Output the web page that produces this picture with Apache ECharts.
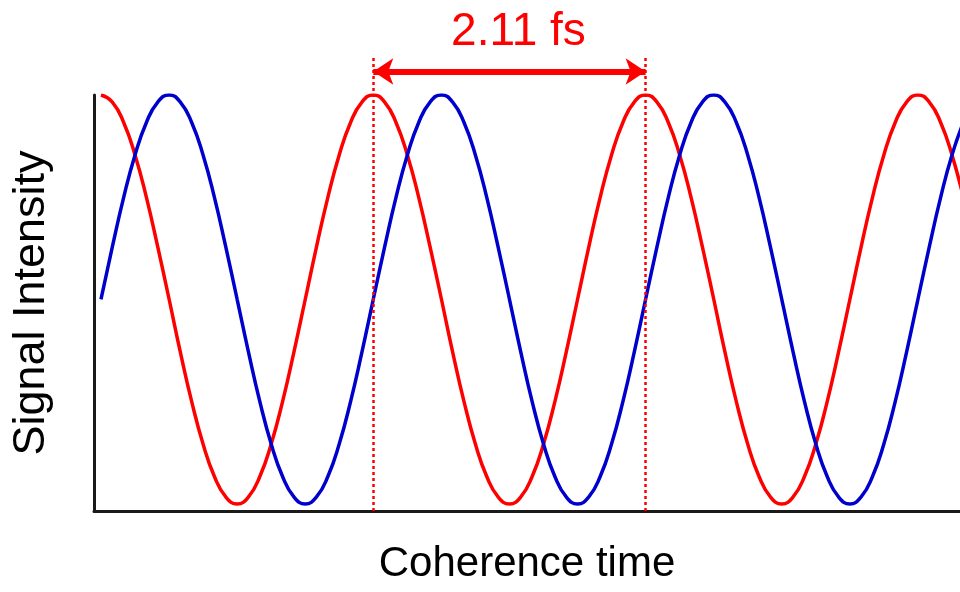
<!DOCTYPE html>
<html>
<head>
<meta charset="utf-8">
<script src="https://cdn.jsdelivr.net/npm/echarts@6/dist/echarts.min.js"></script>
<style>
  html, body { margin: 0; padding: 0; background: #fff; }
  #main { width: 960px; height: 592px; }
</style>
</head>
<body>
<div id="main"></div>
<script>
// coherence time (fs), sampled every 1/24 of the 2.11 fs period
var times = [0, 0.088, 0.176, 0.264, 0.352, 0.440, 0.528, 0.615, 0.703, 0.791, 0.879, 0.967,
  1.055, 1.143, 1.231, 1.319, 1.407, 1.495, 1.583, 1.670, 1.758, 1.846, 1.934, 2.022,
  2.110, 2.198, 2.286, 2.374, 2.462, 2.550, 2.638, 2.725, 2.813, 2.901, 2.989, 3.077,
  3.165, 3.253, 3.341, 3.429, 3.517, 3.605, 3.693, 3.780, 3.868, 3.956, 4.044, 4.132,
  4.220, 4.308, 4.396, 4.484, 4.572, 4.660, 4.748, 4.835, 4.923, 5.011, 5.099, 5.187,
  5.275, 5.363, 5.451, 5.539, 5.627, 5.715, 5.803, 5.890, 5.978, 6.066, 6.154, 6.242,
  6.330, 6.418, 6.506, 6.594, 6.682];
// normalised signal intensity
var redSignal = [
  1.0, 0.983, 0.934, 0.856, 0.754, 0.635, 0.509, 0.382, 0.263, 0.161, 0.083, 0.034,
  0.017, 0.034, 0.083, 0.161, 0.263, 0.382, 0.509, 0.635, 0.754, 0.856, 0.934, 0.983,
  1.0, 0.983, 0.934, 0.856, 0.754, 0.635, 0.509, 0.382, 0.263, 0.161, 0.083, 0.034,
  0.017, 0.034, 0.083, 0.161, 0.263, 0.382, 0.509, 0.635, 0.754, 0.856, 0.934, 0.983,
  1.0, 0.983, 0.934, 0.856, 0.754, 0.635, 0.509, 0.382, 0.263, 0.161, 0.083, 0.034,
  0.017, 0.034, 0.083, 0.161, 0.263, 0.382, 0.509, 0.635, 0.754, 0.856, 0.934, 0.983,
  1.0, 0.983, 0.934, 0.856, 0.754];
var blueSignal = [
  0.509, 0.635, 0.754, 0.856, 0.934, 0.983, 1.0, 0.983, 0.934, 0.856, 0.754, 0.635,
  0.509, 0.382, 0.263, 0.161, 0.083, 0.034, 0.017, 0.034, 0.083, 0.161, 0.263, 0.382,
  0.509, 0.635, 0.754, 0.856, 0.934, 0.983, 1.0, 0.983, 0.934, 0.856, 0.754, 0.635,
  0.509, 0.382, 0.263, 0.161, 0.083, 0.034, 0.017, 0.034, 0.083, 0.161, 0.263, 0.382,
  0.509, 0.635, 0.754, 0.856, 0.934, 0.983, 1.0, 0.983, 0.934, 0.856, 0.754, 0.635,
  0.509, 0.382, 0.263, 0.161, 0.083, 0.034, 0.017, 0.034, 0.083, 0.161, 0.263, 0.382,
  0.509, 0.635, 0.754, 0.856, 0.934];
// period marks
var periodStart = 2.11;
var periodEnd = 4.22;
var periodLabel = '2.11 fs';

var xMin = -0.054, xMax = 6.656;

function pairs(xs, ys) {
  return xs.map(function (x, i) { return [x, ys[i]]; });
}

var chart = echarts.init(document.getElementById('main'));

var dotted = { type: [3, 3], width: 2.5, color: '#ff0000' };

var option = {
  animation: false,
  textStyle: { fontFamily: 'Liberation Sans, Arial, sans-serif' },
  grid: [
    { left: 94, right: 0, top: 95, bottom: 81 },
    // overlay for the annotation above the plot
    { left: 94, right: 0, top: 55, bottom: 81 }
  ],
  xAxis: [
    {
      type: 'value', gridIndex: 0, min: xMin, max: xMax,
      name: 'Coherence time', nameLocation: 'middle', nameGap: 32,
      nameTextStyle: { fontSize: 42, color: '#000' },
      axisLine: { onZero: false, lineStyle: { color: '#1a1a1a', width: 3 } },
      axisTick: { show: false }, axisLabel: { show: false }, splitLine: { show: false }
    },
    { type: 'value', gridIndex: 1, min: xMin, max: xMax, show: false }
  ],
  yAxis: [
    {
      type: 'value', gridIndex: 0, min: 0, max: 1,
      name: 'Signal Intensity', nameLocation: 'middle', nameGap: 40,
      nameTextStyle: { fontSize: 45, color: '#000' },
      axisLine: { show: true, onZero: false, lineStyle: { color: '#1a1a1a', width: 3 } },
      axisTick: { show: false }, axisLabel: { show: false }, splitLine: { show: false }
    },
    { type: 'value', gridIndex: 1, min: 0, max: 1.0962, show: false }
  ],
  series: [
    {
      type: 'line', xAxisIndex: 0, yAxisIndex: 0,
      data: pairs(times, redSignal), smooth: true, showSymbol: false,
      lineStyle: { color: '#ff0000', width: 3.5 }
    },
    {
      type: 'line', xAxisIndex: 0, yAxisIndex: 0,
      data: pairs(times, blueSignal), smooth: true, showSymbol: false,
      lineStyle: { color: '#0000cc', width: 3.5 }
    },
    {
      type: 'line', xAxisIndex: 1, yAxisIndex: 1, data: [],
      markLine: {
        silent: true,
        animation: false,
        data: [
          [
            { coord: [periodStart, 0], symbol: 'none', lineStyle: dotted, label: { show: false } },
            { coord: [periodStart, 1.0914], symbol: 'none' }
          ],
          [
            { coord: [periodEnd, 0], symbol: 'none', lineStyle: dotted, label: { show: false } },
            { coord: [periodEnd, 1.0914], symbol: 'none' }
          ],
          [
            {
              coord: [periodStart, 1.0565], symbol: 'arrow', symbolSize: [20, 20],
              lineStyle: { type: 'solid', width: 6, color: '#ff0000' },
              label: {
                show: true, position: 'middle', formatter: periodLabel,
                fontSize: 46, color: '#ff0000', distance: 16,
                padding: [0, 0, 0, 18]
              }
            },
            { coord: [periodEnd, 1.0565], symbol: 'arrow', symbolSize: [20, 20] }
          ]
        ]
      }
    }
  ]
};

chart.setOption(option);
</script>
</body>
</html>
